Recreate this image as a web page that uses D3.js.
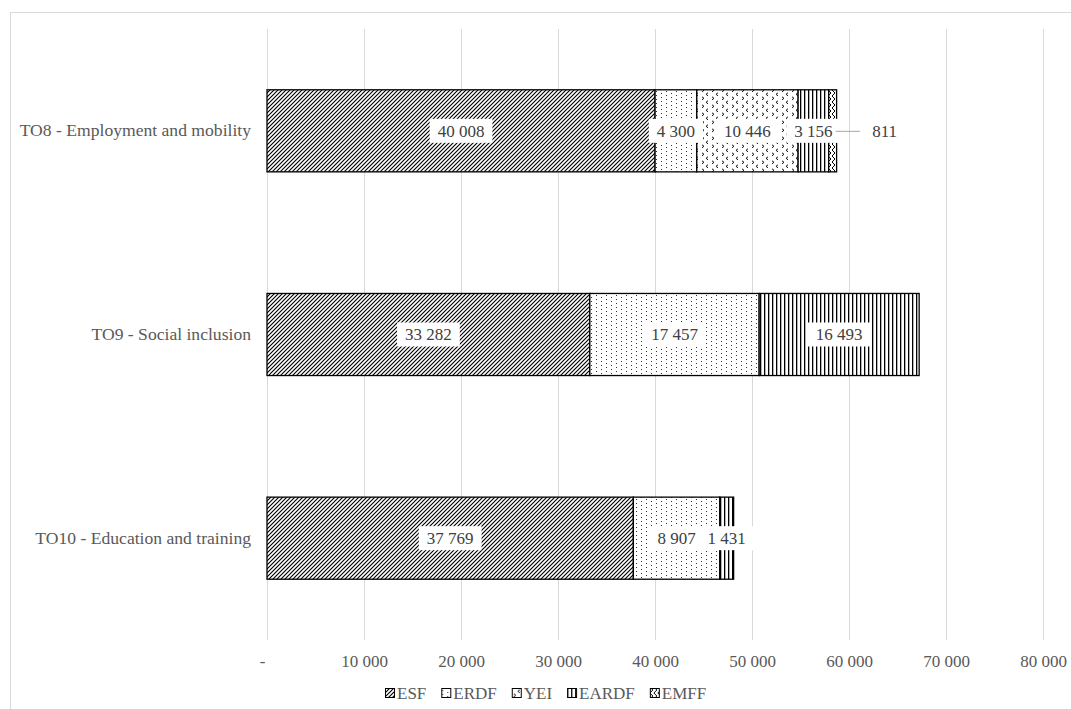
<!DOCTYPE html>
<html>
<head>
<meta charset="utf-8">
<script src="https://cdn.jsdelivr.net/npm/d3@7"></script>
<style>
  html, body { margin: 0; padding: 0; background: #fff; }
  svg { display: block; }
  svg text { font-family: "Liberation Serif", "Times New Roman", serif !important; }
</style>
</head>
<body>
<svg id="chart" width="1071" height="709"></svg>
<script>
// ---- data ----
const categories = ["TO8 - Employment and mobility", "TO9 - Social inclusion", "TO10 - Education and training"];
const seriesNames = ["ESF", "ERDF", "YEI", "EARDF", "EMFF"];
const ESF   = [40008, 33282, 37769];
const ERDF  = [4300, 17457, 8907];
const YEI   = [10446, 0, 0];
const EARDF = [3156, 16493, 1431];
const EMFF  = [811, 0, 0];
const xTicks = [0, 10000, 20000, 30000, 40000, 50000, 60000, 70000, 80000];

const seriesValues = [ESF, ERDF, YEI, EARDF, EMFF];

// ---- layout ----
const svg = d3.select("#chart");
const x = d3.scaleLinear().domain([0, 80000]).range([267, 1043]);
const y = d3.scaleBand().domain(categories).range([29, 640]).paddingInner(0.597).paddingOuter(0.2985);
const FS = 17;

// frame
svg.append("rect").attr("x", 10.5).attr("y", 12.5).attr("width", 1100).attr("height", 720)
  .attr("fill", "#fff").attr("stroke", "#d9d9d9").attr("stroke-width", 1);

// patterns
const defs = svg.append("defs");
function pat(id, w, h, build) {
  const p = defs.append("pattern").attr("id", id).attr("patternUnits", "userSpaceOnUse")
    .attr("width", w).attr("height", h);
  p.append("rect").attr("width", w).attr("height", h).attr("fill", "#fff");
  build(p);
}
pat("p-ESF", 4, 4, p => p.append("path").attr("d", "M-1,1 L1,-1 M0,4 L4,0 M3,5 L5,3")
  .attr("stroke", "#000").attr("stroke-width", 1.15));
pat("p-ERDF", 10, 4, p => {
  p.append("rect").attr("x", 1).attr("y", 1).attr("width", 1).attr("height", 1).attr("fill", "#333");
  p.append("rect").attr("x", 6).attr("y", 3).attr("width", 1).attr("height", 1).attr("fill", "#333");
});
pat("p-YEI", 10, 8, p => p.append("path").attr("d", "M2,0.8 L4,2.3 L2,3.8 M8,4.8 L6,6.3 L8,7.8")
  .attr("fill", "none").attr("stroke", "#111").attr("stroke-width", 1));
pat("p-EARDF", 4, 4, p => p.append("rect").attr("x", 0).attr("y", 0).attr("width", 1.3).attr("height", 4).attr("fill", "#000"));
pat("p-EMFF", 4, 6, p => p.append("path").attr("d", "M0,0 L3,3 L0,6")
  .attr("fill", "none").attr("stroke", "#000").attr("stroke-width", 1));

// gridlines
svg.append("g").selectAll("line").data(xTicks).join("line")
  .attr("x1", d => Math.round(x(d)) + 0.5).attr("x2", d => Math.round(x(d)) + 0.5)
  .attr("y1", 29).attr("y2", 640)
  .attr("stroke", "#d9d9d9").attr("stroke-width", 1);

// x axis labels
const fmt = v => v === 0 ? "-" : d3.format(",")(v).replace(/,/g, " ");
const xAxis = d3.axisBottom(x).tickValues(xTicks).tickFormat(fmt).tickSize(0).tickPadding(0);
const gx = svg.append("g").attr("transform", "translate(0,655)").call(xAxis);
gx.attr("font-family", null).attr("font-size", null);
gx.select(".domain").remove();
gx.selectAll("text").attr("font-size", FS).attr("fill", "#595959").attr("dy", "0.71em");
gx.selectAll(".tick").filter(d => d === 0).select("text").attr("dx", -5);

// y axis labels
const yAxis = d3.axisLeft(y).tickSize(0).tickPadding(16);
const gy = svg.append("g").attr("transform", "translate(267,0)").call(yAxis);
gy.attr("font-family", null).attr("font-size", null);
gy.select(".domain").remove();
gy.selectAll("text").attr("font-size", 17.6).attr("fill", "#595959");

// stacked data
const rows = categories.map((c, i) => {
  const o = { cat: c };
  seriesNames.forEach((s, k) => o[s] = seriesValues[k][i]);
  return o;
});
const stack = d3.stack().keys(seriesNames)(rows);

const gBars = svg.append("g");
stack.forEach(layer => {
  gBars.append("g").selectAll("rect").data(layer.filter(d => d[1] - d[0] > 0)).join("rect")
    .attr("x", d => x(d[0])).attr("width", d => x(d[1]) - x(d[0]))
    .attr("y", d => y(d.data.cat)).attr("height", y.bandwidth())
    .attr("fill", `url(#p-${layer.key})`)
    .attr("stroke", "#000").attr("stroke-width", 1.3);
});

// data labels
const gLab = svg.append("g");
const labels = [];
stack.forEach(layer => {
  layer.forEach(d => {
    const v = d[1] - d[0];
    if (v <= 0) return;
    labels.push({ key: layer.key, cat: d.data.cat, v, x0: d[0], x1: d[1] });
  });
});
const fmtL = v => d3.format(",")(v).replace(/,/g, " ");
labels.forEach(l => {
  let cx = (x(l.x0) + x(l.x1)) / 2;
  const cy = y(l.cat) + y.bandwidth() / 2;
  const outside = l.key === "EMFF";
  if (outside) cx = x(l.x1) + 48;
  const t = gLab.append("text").attr("x", cx).attr("y", cy).attr("dy", "0.35em")
    .attr("text-anchor", "middle").attr("font-size", FS).attr("fill", "#404040").text(fmtL(l.v));
  const w = t.node().getComputedTextLength();
  l.t = t; l.w = w; l.cx = cx; l.cy = cy; l.outside = outside;
});
labels.forEach(l => {
  gLab.insert("rect", "text").attr("x", l.cx - l.w / 2 - 8).attr("y", l.cy - 12)
    .attr("width", l.w + 16).attr("height", 24).attr("fill", "#fff");
});
labels.filter(l => l.outside).forEach(l => {
  gLab.append("line").attr("x1", x(l.x1) - 1).attr("x2", l.cx - l.w / 2 - 12)
    .attr("y1", l.cy + 0.5).attr("y2", l.cy + 0.5).attr("stroke", "#a6a6a6").attr("stroke-width", 1);
});

// legend
const gLeg = svg.append("g").attr("transform", "translate(385,693)");
let lx = 0;
seriesNames.forEach(s => {
  const g = gLeg.append("g").attr("transform", `translate(${lx},0)`);
  g.append("rect").attr("x", 0.5).attr("y", -4.5).attr("width", 9).attr("height", 9)
    .attr("fill", `url(#p-${s})`).attr("stroke", "#000").attr("stroke-width", 1);
  const t = g.append("text").attr("x", 12).attr("y", 0).attr("dy", "0.35em")
    .attr("font-size", FS).attr("fill", "#595959").text(s);
  lx += 12 + t.node().getComputedTextLength() + 15;
});
</script>
</body>
</html>
